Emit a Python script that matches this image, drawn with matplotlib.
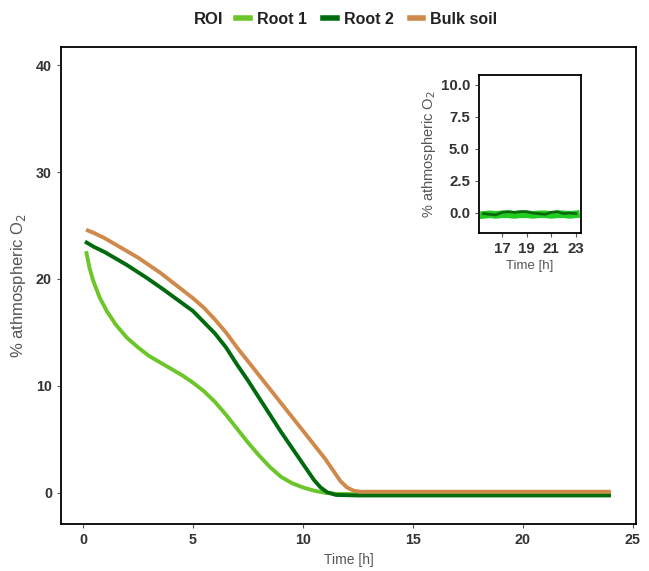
import matplotlib
matplotlib.use("Agg")
import matplotlib.pyplot as plt
from matplotlib.lines import Line2D

plt.rcParams["font.family"] = ["Liberation Sans", "DejaVu Sans"]

# --- datos ---
t_root1 = [0.14, 0.3, 0.47, 0.75, 1.08, 1.5, 2.0, 2.5, 3.0, 3.5, 4.0, 4.5, 5.0, 5.5, 6.0,
           6.5, 7.0, 7.5, 8.0, 8.5, 9.0, 9.5, 10.0, 10.5, 11.0, 11.5, 13, 16, 20, 24]
o2_root1 = [22.6, 21.0, 19.8, 18.3, 17.0, 15.7, 14.5, 13.6, 12.8, 12.2, 11.6, 11.0, 10.3, 9.5, 8.5,
            7.3, 6.0, 4.7, 3.5, 2.4, 1.5, 0.9, 0.5, 0.2, 0.0, -0.1, -0.15, -0.15, -0.15, -0.15]

t_root2 = [0.09, 0.5, 1.0, 1.5, 2.0, 2.9, 3.6, 4.4, 5.0, 5.5, 6.0, 6.5, 7.0, 7.5, 8.0, 8.5,
           9.0, 9.5, 10.0, 10.5, 10.8, 11.1, 11.5, 12.5, 16, 20, 24]
o2_root2 = [23.5, 23.0, 22.5, 21.9, 21.3, 20.1, 19.1, 17.9, 17.0, 15.95, 14.9, 13.6, 12.0, 10.5, 8.9, 7.3,
            5.7, 4.2, 2.7, 1.2, 0.5, 0.05, -0.2, -0.25, -0.25, -0.25, -0.25]

t_bulk = [0.14, 0.5, 1.0, 1.5, 2.0, 2.5, 3.0, 3.5, 4.0, 4.5, 5.0, 5.5, 6.0, 6.5, 7.0, 7.5, 8.0,
          8.5, 9.0, 9.5, 10.0, 10.5, 11.0, 11.4, 11.7, 12.0, 12.3, 12.6, 14, 18, 24]
o2_bulk = [24.6, 24.3, 23.8, 23.2, 22.6, 22.0, 21.3, 20.6, 19.8, 19.0, 18.2, 17.3, 16.2, 15.0, 13.6, 12.3, 11.0,
           9.7, 8.4, 7.1, 5.8, 4.5, 3.2, 2.0, 1.1, 0.5, 0.2, 0.1, 0.1, 0.1, 0.1]

# inset (zoom 15.5 - 23 h)
t_zoom = [15.5, 16, 16.5, 17, 17.5, 18, 18.5, 19, 19.5, 20, 20.5, 21, 21.5, 22, 22.5, 23]
o2_zoom_root1 = [-0.15, -0.1, -0.15, -0.1, -0.1, -0.15, -0.1, -0.1, -0.15, -0.1, -0.1, -0.15, -0.1, -0.1, -0.15, -0.1]
o2_zoom_root2 = [-0.05, -0.1, -0.15, 0.05, 0.1, 0.05, 0.1, 0.1, 0.0, -0.05, -0.1, 0.05, 0.1, -0.05, 0.0, -0.05]

labels = ["Root 1", "Root 2", "Bulk soil"]
colores = ["#6CC62A", "#006A0E", "#CF8A4B"]

x_ticks = [0, 5, 10, 15, 20, 25]
y_ticks = [0, 10, 20, 30, 40]
x_ticks_zoom = [17, 19, 21, 23]
y_ticks_zoom = [0.0, 2.5, 5.0, 7.5, 10.0]

TXT = "#333333"
LBL = "#555555"


def estilo(ax, size):
    for s in ax.spines.values():
        s.set_color("black")
        s.set_linewidth(1.3)
    ax.tick_params(colors="#555555", length=3, width=0.8, labelcolor=TXT, labelsize=size)
    for lab in ax.get_xticklabels() + ax.get_yticklabels():
        lab.set_fontweight("bold")


fig = plt.figure(figsize=(6.49, 5.71), dpi=100)
ax = fig.add_axes([0.094, 0.0823, 0.886, 0.8354])

for t, v, c in zip([t_root1, t_root2, t_bulk], [o2_root1, o2_root2, o2_bulk], colores):
    ax.plot(t, v, color=c, linewidth=2.8, solid_capstyle="butt")

ax.set_xlim(-1.0, 25.14)
ax.set_ylim(-2.92, 41.7)
ax.set_xticks(x_ticks)
ax.set_yticks(y_ticks)
ax.set_xlabel("Time [h]", fontsize=10, color=LBL, labelpad=4)
ax.set_ylabel("% athmospheric O$_2$", fontsize=12, color=LBL, labelpad=6)
estilo(ax, 10.3)

# inset
axi = fig.add_axes([0.738, 0.592, 0.157, 0.2767])
axi.plot(t_zoom, o2_zoom_root1, color="#22CC22", linewidth=5.5)
axi.plot(t_zoom, o2_zoom_root2, color="#0A6A0A", linewidth=2)
axi.set_xlim(15.13, 23.4)
axi.set_ylim(-1.56, 10.78)
axi.set_xticks(x_ticks_zoom)
axi.set_yticks(y_ticks_zoom)
axi.set_yticklabels([f"{v:.1f}" for v in y_ticks_zoom])
axi.set_xlabel("Time [h]", fontsize=9.5, color=LBL, labelpad=3)
axi.set_ylabel("% athmospheric O$_2$", fontsize=10.5, color=LBL, labelpad=2)
estilo(axi, 10.8)

# leyenda superior
fig.text(0.298, 0.966, "ROI", fontsize=12, fontweight="bold", color="#222222",
         ha="left", va="center")
handles = [Line2D([], [], color=c, linewidth=4) for c in colores]
fig.legend(handles, labels, loc="center left", bbox_to_anchor=(0.364, 0.966), ncol=3,
           frameon=False, handlelength=0.85, handletextpad=0.45, columnspacing=1.0,
           borderaxespad=0, borderpad=0,
           prop={"size": 11.5, "weight": "bold"}, labelcolor="#222222")

fig.savefig("out.png", dpi=100)
